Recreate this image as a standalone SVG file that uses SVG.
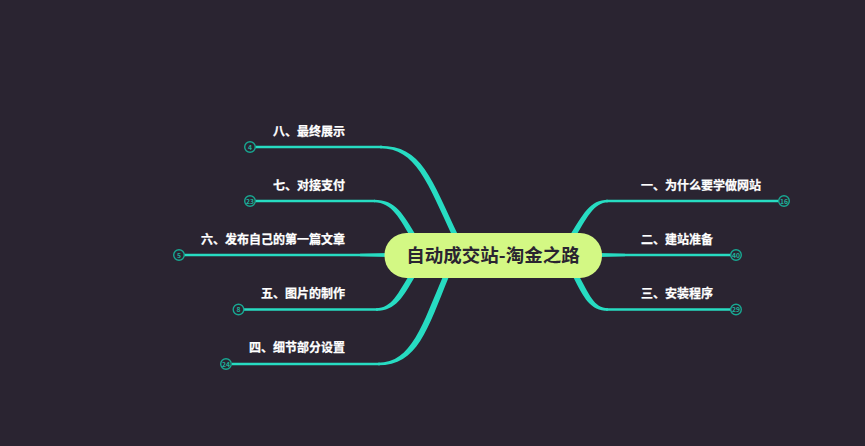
<svg xmlns="http://www.w3.org/2000/svg" width="865" height="446" viewBox="0 0 865 446">
<style>
text{font-family:"Noto Sans CJK SC","Liberation Sans",sans-serif}
.c{fill:none;stroke:#27dcc2;stroke-width:2.600}
.f{fill:#27dcc2}
.b{fill:#2a2431;stroke:#18a892;stroke-width:1.400}
.n{font-size:6.800px;font-weight:700;fill:#1fb09b;text-anchor:middle}
.t{font-size:12px;font-weight:700;fill:#fff;stroke:#fff;stroke-width:.25}
.e{text-anchor:end}
</style>
<rect width="865" height="446" fill="#2a2431"/>
<g id="connectors">
<path class="c" d="M255 147H382"/><path class="f" d="M380 145.700C422 145.700 431 178 459 237L454 239.500C427 182 416 148.300 380 148.300Z"/>
<path class="c" d="M255 201H375"/><path class="f" d="M374 199.700C396 199.700 403 214 417 237L412 239.500C400 219 392 202.300 374 202.300Z"/>
<path class="c" d="M184 255H385"/><path class="f" d="M360 253.700L390 253V257L360 256.300Z"/>
<path class="c" d="M244 309.500H378"/><path class="f" d="M376 308.200C392 308.200 398 293 410 274L415 276.500C403 297 396 310.800 376 310.800Z"/>
<path class="c" d="M232 364H380"/><path class="f" d="M378 362.700C412 362.700 422 325 444 274L449 276.500C427 330 418 365.300 378 365.300Z"/>
<path class="c" d="M779 201H606"/><path class="f" d="M608 199.700C590 199.700 583 214 569 237L574 239.500C586 219 594 202.300 608 202.300Z"/>
<path class="c" d="M731 255H600"/><path class="f" d="M625 253.700L598 253V257L625 256.300Z"/>
<path class="c" d="M731 309.500H606"/><path class="f" d="M608 308.200C594 308.200 589 294 578 274L573 276.500C584 298 590 310.800 608 310.800Z"/>
</g>
<g id="root"><rect x="384.500" y="233" width="217.500" height="45" rx="22" fill="#d3f884"/><text x="493" y="261.500" font-size="18.500" font-weight="700" fill="#2a2431" text-anchor="middle">自动成交站-淘金之路</text></g>
<g id="n8"><text class="t e" x="345" y="136">八、最终展示</text><circle class="b" cx="250" cy="147" r="5.300"/><text class="n" x="250" y="149.500">4</text></g>
<g id="n7"><text class="t e" x="345" y="190">七、对接支付</text><circle class="b" cx="250" cy="201" r="5.300"/><text class="n" x="250" y="203.500">23</text></g>
<g id="n6"><text class="t e" x="345" y="244">六、发布自己的第一篇文章</text><circle class="b" cx="179" cy="255" r="5.300"/><text class="n" x="179" y="257.500">5</text></g>
<g id="n5"><text class="t e" x="345" y="298">五、图片的制作</text><circle class="b" cx="238.500" cy="309.500" r="5.300"/><text class="n" x="238.500" y="312">8</text></g>
<g id="n4"><text class="t e" x="345" y="352">四、细节部分设置</text><circle class="b" cx="226" cy="364" r="5.300"/><text class="n" x="226" y="366.500">24</text></g>
<g id="n1"><text class="t" x="641" y="190">一、为什么要学做网站</text><circle class="b" cx="784" cy="201" r="5.300"/><text class="n" x="784" y="203.500">16</text></g>
<g id="n2"><text class="t" x="641" y="244">二、建站准备</text><circle class="b" cx="736" cy="255" r="5.300"/><text class="n" x="736" y="257.500">40</text></g>
<g id="n3"><text class="t" x="641" y="298">三、安装程序</text><circle class="b" cx="736" cy="309.500" r="5.300"/><text class="n" x="736" y="312">29</text></g>
</svg>
